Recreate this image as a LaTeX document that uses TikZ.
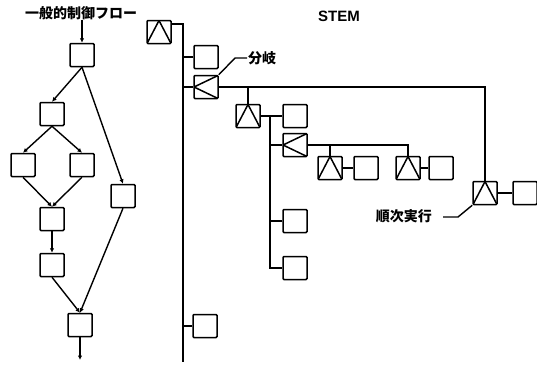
\documentclass[tikz,border=0pt]{standalone}
\usepackage{fontspec}
\setsansfont{Liberation Sans}
\newfontfamily\jpfont{Noto Sans CJK JP}
\usetikzlibrary{arrows.meta, positioning}

\begin{document}
\begin{tikzpicture}[x=1pt, y=-1pt,
		blk/.style={rectangle, draw, line width=1.5pt, rounded corners=1pt, minimum width=24pt, minimum height=23pt, inner sep=0pt},
		upblk/.style={blk, path picture={\draw[line width=1.5pt, sharp corners] (path picture bounding box.south west) -- (path picture bounding box.north) -- (path picture bounding box.south east);}},
		brblk/.style={blk, path picture={\draw[line width=1.5pt, sharp corners] (path picture bounding box.north east) -- (path picture bounding box.west) -- (path picture bounding box.south east);}},
		flow/.style={-{Latex[length=4.5pt, width=4.5pt]}, line width=1.4pt},
		wire/.style={line width=1.4pt},
		lbl/.style={font=\jpfont\bfseries\fontsize{14}{14}\selectfont, inner sep=0pt}
	]
	\useasboundingbox (0,0) rectangle (537,365);
	
	% general control flow
	\node[lbl] (title) at (81,13) {一般的制御フロー};
	\node[blk] (f1) at (82,55) {};
	\node[blk] (f2) at (52,114) {};
	\node[blk] (f3) at (23,165) {};
	\node[blk] (f4) at (82,165) {};
	\node[blk] (fr) at (123,196) {};
	\node[blk] (f5) at (52,219) {};
	\node[blk] (f6) at (52,265) {};
	\node[blk] (f7) at (80,325) {};
	\coordinate (fout) at (80,360);
	
	\draw[flow] (f1.north |- title.south) -- (f1.north);
	\draw[flow] (f1.south) -- (f2.north);
	\draw[flow] (f1.south) -- (fr.north);
	\draw[flow] (f2.south) -- (f3.north);
	\draw[flow] (f2.south) -- (f4.north);
	\draw[flow] (f3.south) -- (f5.north);
	\draw[flow] (f4.south) -- (f5.north);
	\draw[flow] (f5.south) -- (f6.north);
	\draw[flow] (f6.south) -- (f7.north);
	\draw[flow] (fr.south) -- (f7.north);
	\draw[flow] (f7.south) -- (fout);
	
	% STEM
	\node[font=\sffamily\bfseries\fontsize{15}{15}\selectfont] (stem) at (339,16) {STEM};
	\node[upblk] (s0) at (159,32) {};
	\node[blk] (s1) at (206,57) {};
	\node[brblk] (br1) at (206,87) {};
	\node[blk] (s2) at (205,326) {};
	\coordinate (spend) at (183,362);
	
	\node[upblk] (q1) at (248,116) {};
	\node[blk] (q1b) at (295,116) {};
	\node[brblk] (br2) at (295,145) {};
	\node[blk] (q3) at (295,221) {};
	\node[blk] (q4) at (295,268) {};
	\coordinate (sp2) at (270,116);
	
	\node[upblk] (r1) at (330,168) {};
	\node[blk] (r1b) at (366,168) {};
	\node[upblk] (r2) at (408,168) {};
	\node[blk] (r2b) at (441,168) {};
	
	\node[upblk] (seqx) at (485,193) {};
	\node[blk] (seqxb) at (525,193) {};
	
	\draw[wire] ([yshift=8pt]s0.east) -| (spend);
	\draw[wire] (s1.west) -- (s1.west -| spend);
	\draw[wire] (br1.west) -- (br1.west -| spend);
	\draw[wire] (s2.west) -- (s2.west -| spend);
	
	\draw[wire] (br1.east) -| (seqx.north);
	\draw[wire] (q1.north) -- (q1.north |- br1.east);
	\draw[wire] (q1.east) -- (q1b.west);
	\draw[wire] (sp2) |- (q4.west);
	\draw[wire] (br2.west) -- (br2.west -| sp2);
	\draw[wire] (q3.west) -- (q3.west -| sp2);
	
	\draw[wire] (br2.east) -| (r2.north);
	\draw[wire] (r1.north) -- (r1.north |- br2.east);
	\draw[wire] (r1.east) -- (r1b.west);
	\draw[wire] (r2.east) -- (r2b.west);
	\draw[wire] (seqx.east) -- (seqxb.west);
	
	% labels
	\node[lbl, anchor=west] (bunki) at (248,58) {分岐};
	\coordinate (bk) at (235,58);
	\draw[wire] (br1.north east) -- (bk) -- ([xshift=-1pt]bunki.west);
	
	\node[lbl, anchor=east] (seq) at (432,216) {順次実行};
	\coordinate (sqa) at (443,217);
	\coordinate (sqb) at (458,217);
	\draw[wire] (sqa) -- (sqb) -- (seqx.south west);
\end{tikzpicture}
\end{document}
